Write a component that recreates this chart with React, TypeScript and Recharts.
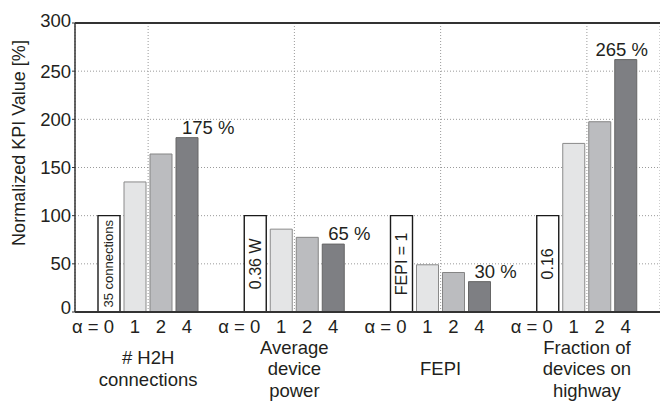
import { BarChart, Bar, XAxis, YAxis, CartesianGrid, ReferenceLine, LabelList } from "recharts";

const groupLines = [
  ["# H2H", "connections"],
  ["Average", "device", "power"],
  ["FEPI"],
  ["Fraction of", "devices on", "highway"],
];
const alpha0 = [100, 100, 100, 100];
const alpha1 = [135, 86, 49, 175];
const alpha2 = [164, 77.5, 41, 197.5];
const alpha4 = [181, 70.5, 31.5, 262];
const baseLabels = ["35 connections", "0.36 W", "FEPI = 1", "0.16"];
const changeLabels = ["175 %", "65 %", "30 %", "265 %"];
const alphaTicks = ["0", "1", "2", "4"];
const yTicks = [0, 50, 100, 150, 200, 250, 300];

const data = groupLines.map((lines, i) => ({
  name: lines.join(" "),
  a0: alpha0[i],
  a1: alpha1[i],
  a2: alpha2[i],
  a4: alpha4[i],
}));

const W = 660;
const H = 401;
const FONT = "'Liberation Sans', Arial, sans-serif";
const FS = 18.5;
const INK = "#231f20";

const box = (p: any) => {
  const v = p.viewBox && p.viewBox.width !== undefined ? p.viewBox : p;
  return { x: Number(v.x), y: Number(v.y), w: Number(v.width), h: Number(v.height) };
};

const alphaLabel = (k: number) => (p: any) => {
  const b = box(p);
  const cx = b.x + b.w / 2;
  const y = b.y + b.h + 21;
  if (k === 0) {
    return (
      <text x={cx + 5} y={y} textAnchor="end" fontSize={FS} fontFamily={FONT} fill={INK}>
        α = 0
      </text>
    );
  }
  return (
    <text x={cx} y={y} textAnchor="middle" fontSize={FS} fontFamily={FONT} fill={INK}>
      {alphaTicks[k]}
    </text>
  );
};

const innerLabel = (p: any) => {
  const b = box(p);
  const txt = baseLabels[p.index];
  const cx = b.x + b.w / 2;
  const cy = b.y + b.h / 2;
  return (
    <text
      x={cx}
      y={cy}
      transform={`rotate(-90 ${cx} ${cy})`}
      textAnchor="middle"
      dominantBaseline="central"
      fontSize={txt.length > 10 ? 13 : 16}
      fontFamily={FONT}
      fill={INK}
    >
      {txt}
    </text>
  );
};

const changeLabel = (p: any) => {
  const b = box(p);
  const txt = changeLabels[p.index];
  const tw = txt.length * 10.5;
  const x = Math.min(b.x + 6, W - 12 - tw);
  return (
    <text x={x} y={b.y - 4} fontSize={FS} fontFamily={FONT} fill={INK}>
      {txt}
    </text>
  );
};

const GroupTick = (p: any) => {
  const lines = groupLines[p.index] ?? [String(p.payload.value)];
  const base = 375 - ((lines.length - 1) / 2) * 21.5;
  return (
    <g>
      {lines.map((l, i) => (
        <text key={i} x={p.x} y={base + i * 21.5} textAnchor="middle" fontSize={FS} fontFamily={FONT} fill={INK}>
          {l}
        </text>
      ))}
    </g>
  );
};

const ValueTick = (p: any) => {
  const v = p.payload.value;
  const dy = v === 300 ? -3 : v === 0 ? -5 : 0;
  return (
    <text x={p.x} y={p.y + dy} textAnchor="end" dominantBaseline="central" fontSize={FS} fontFamily={FONT} fill={INK}>
      {v}
    </text>
  );
};

export default function App() {
  return (
    <div style={{ position: "absolute", left: 0, top: 0, background: "#fff" }}>
      <BarChart
        width={W}
        height={H}
        data={data}
        margin={{ top: 23, right: 0, left: 0, bottom: 0 }}
        barGap={4}
        barSize={22}
      >
        <CartesianGrid stroke="#9a9a9a" strokeDasharray="1 2" />
        <XAxis
          dataKey="name"
          interval={0}
          height={89}
          tickLine={false}
          tickSize={0}
          axisLine={{ stroke: "#333", strokeWidth: 2 }}
          tick={<GroupTick />}
        />
        <YAxis
          domain={[0, 300]}
          ticks={yTicks}
          width={75}
          tickSize={3}
          tickMargin={1}
          axisLine={{ stroke: "#333", strokeWidth: 1.5 }}
          tickLine={{ stroke: "#333" }}
          tick={<ValueTick />}
          label={{
            content: () => (
              <text x={25} y={143} transform="rotate(-90 25 143)" textAnchor="middle" fontSize={18} fontFamily={FONT} fill={INK}>
                Normalized KPI Value [%]
              </text>
            ),
          }}
        />
        <YAxis
          yAxisId="r"
          orientation="right"
          domain={[0, 300]}
          ticks={yTicks}
          width={0}
          mirror
          tick={false}
          tickSize={3}
          axisLine={false}
          tickLine={{ stroke: "#333" }}
        />
        <ReferenceLine y={300} stroke="#333" strokeWidth={2} />
        <Bar dataKey="a0" fill="#ffffff" stroke="#1a1a1a" strokeWidth={1.4} isAnimationActive={false}>
          <LabelList dataKey="a0" content={innerLabel} />
          <LabelList dataKey="a0" content={alphaLabel(0)} />
        </Bar>
        <Bar dataKey="a1" fill="#e4e5e6" stroke="#8a8a8a" strokeWidth={1} isAnimationActive={false}>
          <LabelList dataKey="a1" content={alphaLabel(1)} />
        </Bar>
        <Bar dataKey="a2" fill="#bbbcbf" stroke="#858585" strokeWidth={1} isAnimationActive={false}>
          <LabelList dataKey="a2" content={alphaLabel(2)} />
        </Bar>
        <Bar dataKey="a4" fill="#7e7f83" stroke="#666" strokeWidth={1} isAnimationActive={false}>
          <LabelList dataKey="a4" content={alphaLabel(3)} />
          <LabelList dataKey="a4" content={changeLabel} />
        </Bar>
      </BarChart>
    </div>
  );
}
